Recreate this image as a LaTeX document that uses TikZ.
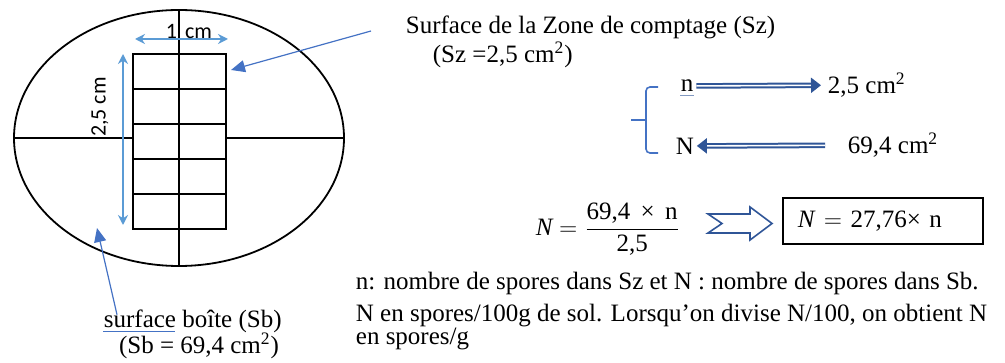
\documentclass[tikz,border=0pt]{standalone}
\usepackage{fontspec}
\setmainfont{Liberation Serif}
\newfontfamily\calibri{Carlito}
\usetikzlibrary{arrows.meta}
\definecolor{dimblue}{HTML}{5B9BD5}
\definecolor{ptrblue}{HTML}{4472C4}
\definecolor{darkblue}{HTML}{2F5597}
\tikzset{
  dim/.style={dimblue, line width=1.1pt, {Stealth[length=5pt,width=5pt]}-{Stealth[length=5pt,width=5pt]}},
  ptr/.style={ptrblue, line width=0.6pt, -{Triangle[length=7pt,width=6pt]}},
  dbl/.style={darkblue, double=white, double distance=0.8pt, line width=1pt, -{Triangle[length=5pt,width=7.5pt]}},
  lbl/.style={inner sep=0pt, font=\fontsize{12.5}{11.5}\selectfont},
  cal/.style={inner sep=0pt, font=\calibri\fontsize{11}{13}\selectfont},
}
\begin{document}
\begin{tikzpicture}[x=0.5pt,y=-0.5pt,line width=0.9pt]
  \useasboundingbox (0,0) rectangle (1005,363);
  % boite et zone de comptage
  \draw (179,138) ellipse [x radius=165, y radius=128];
  \draw (14,138) -- (133,138) (226,138) -- (344,138);
  \draw (179,10) -- (179,266);
  \draw (133,54) rectangle (226,229);
  \foreach \y in {89,124,159,194} \draw (133,\y) -- (226,\y);
  \draw[dim] (135,39) -- (228,39);
  \draw[dim] (123,54) -- (123,225);
  \node[cal] (w) at (189,31) {1\hspace{4pt}cm};
  \node[cal, rotate=90] (h) at (100,107) {2,5 cm};
  \coordinate (sztip) at (231,70);
  \coordinate (sbtip) at (97,228);

  \node[lbl, anchor=west] (sz) at (405,27) {Surface de la Zone de comptage (Sz)};
  \node[lbl, anchor=west] (szval) at (432,55) {(Sz =2,5 cm\textsuperscript{2})};
  \draw[ptr] ([xshift=-17pt,yshift=-2pt]sz.west) -- (sztip);

  \node[lbl, anchor=west] (sb) at (103,321) {surface boîte (Sb)};
  \node[lbl] (sbval) at (199,346) {(Sb = 69,4 cm\textsuperscript{2})};
  \draw[ptrblue, line width=0.6pt] ([yshift=-2pt]sb.base west) -- ++(72,0);
  \draw[ptr] ([xshift=7pt,yshift=-3pt]sb.north west) -- (sbtip);

  % regle de trois
  \draw[ptrblue, line width=0.8pt, rounded corners=2pt] (658,87) -- (646,87) -- (646,153) -- (658,153);
  \draw[ptrblue, line width=0.8pt] (646,120) -- (631,120);
  \node[lbl, anchor=west] (n) at (680,86) {n};
  \node[lbl, anchor=west] (sn) at (827,85) {2,5 cm\textsuperscript{2}};
  \node[lbl, anchor=west] (N) at (675,146) {N};
  \node[lbl, anchor=west] (sN) at (847,145) {69,4 cm\textsuperscript{2}};
  \draw[darkblue!60, line width=0.5pt] ([yshift=-2pt]n.base west) -- ([yshift=-2pt]n.base east);
  \draw[dbl, shorten <=1pt, shorten >=3pt] (n) -- (sn);
  \draw[dbl, shorten <=11pt, shorten >=1pt] (sN) -- (N);

  % formule
  \node[lbl] (frm) at (608,229) {$\displaystyle\textit{N} = \frac{\mbox{69,4\, ×\, n}}{\mbox{2,5}}$};
  \coordinate (imp) at (708,223.5);
  \draw[darkblue, line width=0.8pt] (imp) ++(0,-9.5) -- ++(42,0) -- ++(0,-7) -- (772,223.5)
    -- (750,240) -- ++(0,-7) -- (708,233) -- (722,223.5) -- cycle;
  \node[lbl, draw, line width=0.8pt, anchor=north west, inner xsep=7.5pt, text width=85pt,
    minimum height=23pt] (res) at (782,197) {\textit{N} $=$ 27,76× n};

  \node[lbl, anchor=west] (def) at (355,283) {n: nombre de spores dans Sz et N : nombre de spores dans Sb.};
  \node[lbl, anchor=north west, align=left] (unit) at (355,303)
    {N en spores/100g de sol. Lorsqu’on divise N/100, on obtient N\\en spores/g};
\end{tikzpicture}
\end{document}
